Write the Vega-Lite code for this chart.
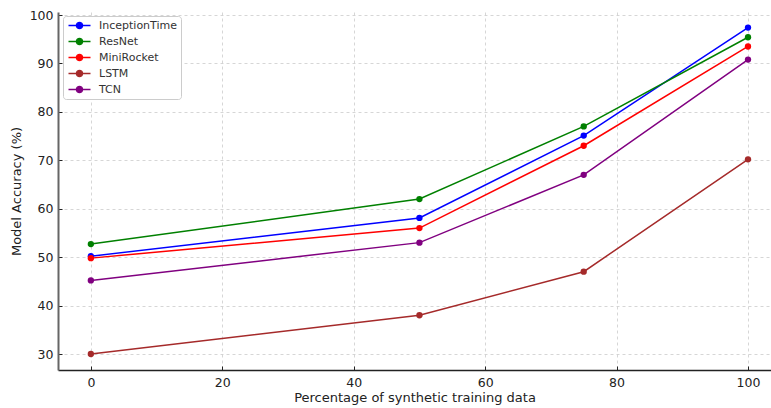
{
  "$schema": "https://vega.github.io/schema/vega-lite/v6.json",
  "width": 713,
  "height": 358,
  "autosize": {"type": "none"},
  "padding": {"left": 58, "top": 12, "right": 0, "bottom": 38},
  "background": "white",
  "config": {
    "font": "DejaVu Sans",
    "view": {"stroke": null},
    "axis": {
      "labelFont": "DejaVu Sans",
      "titleFont": "DejaVu Sans",
      "labelFontSize": 12.5,
      "titleFontSize": 13,
      "labelColor": "#222",
      "titleColor": "#222",
      "titleFontWeight": "normal",
      "grid": true,
      "gridColor": "#cccccc",
      "gridDash": [3, 3],
      "gridWidth": 0.8,
      "tickColor": "#222",
      "tickSize": -4,
      "tickWidth": 1
    }
  },
  "data": {
    "values": [
      {"model": "InceptionTime", "pct": 0, "acc": 50.2},
      {"model": "InceptionTime", "pct": 50, "acc": 58.1},
      {"model": "InceptionTime", "pct": 75, "acc": 75.1},
      {"model": "InceptionTime", "pct": 100, "acc": 97.4},
      {"model": "ResNet", "pct": 0, "acc": 52.7},
      {"model": "ResNet", "pct": 50, "acc": 62.0},
      {"model": "ResNet", "pct": 75, "acc": 77.0},
      {"model": "ResNet", "pct": 100, "acc": 95.4},
      {"model": "MiniRocket", "pct": 0, "acc": 49.8},
      {"model": "MiniRocket", "pct": 50, "acc": 56.0},
      {"model": "MiniRocket", "pct": 75, "acc": 73.0},
      {"model": "MiniRocket", "pct": 100, "acc": 93.5},
      {"model": "LSTM", "pct": 0, "acc": 30.0},
      {"model": "LSTM", "pct": 50, "acc": 38.0},
      {"model": "LSTM", "pct": 75, "acc": 47.0},
      {"model": "LSTM", "pct": 100, "acc": 70.2},
      {"model": "TCN", "pct": 0, "acc": 45.2},
      {"model": "TCN", "pct": 50, "acc": 53.0},
      {"model": "TCN", "pct": 75, "acc": 67.0},
      {"model": "TCN", "pct": 100, "acc": 90.8}
    ]
  },
  "encoding": {
    "x": {
      "field": "pct", "type": "quantitative",
      "scale": {"domain": [-5, 103.5], "nice": false, "zero": false},
      "axis": {"values": [0, 20, 40, 60, 80, 100], "title": "Percentage of synthetic training data", "labelPadding": 10, "titlePadding": 3, "domainColor": "#222", "domainWidth": 1.5}
    },
    "y": {
      "field": "acc", "type": "quantitative",
      "scale": {"domain": [26.7, 100.62], "nice": false, "zero": false},
      "axis": {"values": [30, 40, 50, 60, 70, 80, 90, 100], "title": "Model Accuracy (%)", "labelPadding": 9, "titlePadding": 5.5, "domainColor": "#666", "domainWidth": 2}
    },
    "color": {
      "field": "model", "type": "nominal",
      "scale": {
        "domain": ["InceptionTime", "ResNet", "MiniRocket", "LSTM", "TCN"],
        "range": ["#0000ff", "#008000", "#ff0000", "#a52a2a", "#800080"]
      },
      "legend": {
        "title": null,
        "orient": "none",
        "legendX": 5,
        "legendY": 4,
        "fillColor": "white",
        "strokeColor": "#cccccc",
        "cornerRadius": 3,
        "padding": 3,
        "labelFont": "DejaVu Sans",
        "labelFontSize": 11,
        "labelColor": "#333",
        "labelOffset": 13,
        "rowPadding": 3,
        "symbolOffset": 7,
        "symbolType": "M -2 0 L 2 0 M 0.55 0 A 0.55 0.55 0 1 1 -0.55 0 A 0.55 0.55 0 1 1 0.55 0 Z",
        "symbolSize": 121,
        "symbolStrokeWidth": 1.5,
        "symbolOpacity": 1
      }
    }
  },
  "layer": [
    {"mark": {"type": "line", "strokeWidth": 1.5}},
    {"mark": {"type": "point", "filled": true, "size": 40, "opacity": 1}}
  ]
}
